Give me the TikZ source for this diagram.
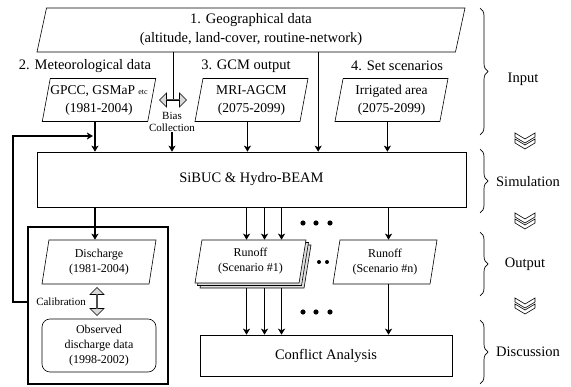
\documentclass[tikz,border=0pt]{standalone}
\usepackage{fontspec}
\setmainfont{Liberation Serif}
\usetikzlibrary{positioning,shapes.geometric,shapes.arrows,arrows.meta,shadows,decorations.pathreplacing}

\tikzset{
  chev/.pic={
    \foreach \d in {0,6}{
      \draw[fill=white, line width=0.6pt] (-10,\d) -- (0,\d+6) -- (10,\d) -- (10,\d+4) -- (0,\d+10) -- (-10,\d+4) -- cycle;
    }
  }
}

\begin{document}
\begin{tikzpicture}[x=1pt, y=-1pt,
  every node/.style={inner sep=0pt},
  lbl/.style={font=\fontsize{14.5}{19}\selectfont},
  txt/.style={font=\fontsize{13.5}{18}\selectfont},
  sml/.style={font=\fontsize{12}{15}\selectfont},
  tiny/.style={font=\fontsize{11}{12}\selectfont},
  para/.style={draw, trapezium, trapezium left angle=75, trapezium right angle=105, trapezium stretches body, align=center, fill=white, line width=0.6pt, minimum height=43},
  box/.style={draw, rectangle, align=center, fill=white, line width=0.6pt},
  dbl/.style={draw, double arrow, fill=gray!30, line width=0.6pt, minimum width=14, double arrow head extend=3.5},
  arr/.style={-{Stealth[length=6pt, width=7pt, inset=1.5pt]}, line width=1.2pt},
  brc/.style={decorate, decoration={brace, amplitude=8pt}, line width=0.7pt}
]
\useasboundingbox (0,0) rectangle (571,387);

% input
\node[para, lbl, trapezium left angle=73.5, trapezium right angle=106.5, minimum width=428, minimum height=44] (geo) at (251,30) {1. Geographical data\\(altitude, land-cover, routine-network)};
\node[lbl] (metlbl) at (85,66) {2. Meteorological data};
\node[lbl] (gcmlbl) at (246,66) {3. GCM output};
\node[lbl] (irrlbl) at (397,66) {4. Set scenarios};
\node[para, txt, minimum width=112] (met) at (99,100) {GPCC, GSMaP {\fontsize{8}{9}\selectfont etc}\\(1981-2004)};
\node[para, txt, minimum width=113] (gcm) at (251.5,100) {MRI-AGCM\\(2075-2099)};
\node[para, txt, minimum width=113] (irr) at (391.5,100) {Irrigated area\\(2075-2099)};
\node[dbl, minimum height=27] (bc) at (173,100) {};
\node[tiny, align=center] (bias) at (172,122) {Bias\\Collection};

% simulation
\node[box, lbl, minimum width=429, minimum height=55] (sibuc) at (251.5,179.5) {SiBUC \& Hydro-BEAM};

% output
\node[box, line width=1.6pt, fill=none, minimum width=140, minimum height=157] (panel) at (98,305.5) {};
\node[para, sml, minimum width=114, minimum height=44] (dis) at (99,262) {Discharge\\(1981-2004)};
\node[box, sml, rounded corners=8pt, minimum width=114, minimum height=53] (obs) at (99,345.5) {Observed\\discharge data\\(1998-2002)};
\node[dbl, rotate=90, minimum height=28] (cal) at (97,301.5) {};
\node[tiny] (calib) at (61,302) {Calibration};
\node[para, sml, minimum width=111, double copy shadow={shadow xshift=2.5pt, shadow yshift=-2.5pt, fill=gray!25, draw}] (run1) at (250.5,261.5) {Runoff\\(Scenario \#1)};
\node[para, sml, minimum width=104, minimum height=44] (runn) at (385,262) {Runoff\\(Scenario \#n)};

% discussion
\node[box, lbl, minimum width=252, minimum height=41] (conf) at (326,355.5) {Conflict Analysis};

% stages
\node[lbl] (inp) at (523,79) {Input};
\node[lbl] (sim) at (528,182) {Simulation};
\node[lbl] (outp) at (525,264) {Output};
\node[lbl] (disc) at (528,352) {Discussion};
\draw[brc] (480,8) -- (480,135);
\draw[brc] (480,149) -- (480,213);
\draw[brc] (480,232) -- (480,296);
\draw[brc] (480,320) -- (480,384);
\pic at (525,133) {chev};
\pic at (525,213) {chev};
\pic at (525,298) {chev};

% arrows
\draw[arr] (met.bottom side) -- (met.bottom side |- sibuc.north);
\draw (geo.bottom side -| bc.north) -- (bc.north);
\draw[arr] (bias.south) -- (bias.south |- sibuc.north);
\draw[arr] (gcm.bottom side) -- (gcm.bottom side |- sibuc.north);
\draw[arr] ([xshift=72pt]geo.bottom side) -- ([xshift=72pt]geo.bottom side |- sibuc.north);
\draw[arr] (irr.bottom side) -- (irr.bottom side |- sibuc.north);
\coordinate (fb) at (13,136);
\draw[arr] (panel.west |- calib) -| (fb) -- ([xshift=-2pt]fb -| met.bottom side);
\draw[arr] (sibuc.south -| met.bottom side) -- (met.bottom side |- dis.north);
\foreach \dx in {-7.5,10.5,27.5}
  \draw[arr] ([xshift=\dx pt]run1.top side |- sibuc.south) -- ([xshift=\dx pt]run1.top side);
\draw[arr] (runn.top side |- sibuc.south) -- (runn.top side);
\foreach \dx in {-7.5,10.5,27.5}
  \draw[arr] ([xshift=\dx pt,yshift=-5pt]run1.top side |- run1.bottom side) -- ([xshift=\dx pt]run1.top side |- conf.north);
\draw[arr] (runn.top side |- runn.bottom side) -- (runn.top side |- conf.north);
\foreach \x in {303,316,330} {
  \fill (\x,223) circle (2.6);
  \fill (\x,312) circle (2.6);
}
\fill (319,262) circle (2); \fill (327,262) circle (2);
\end{tikzpicture}
\end{document}
